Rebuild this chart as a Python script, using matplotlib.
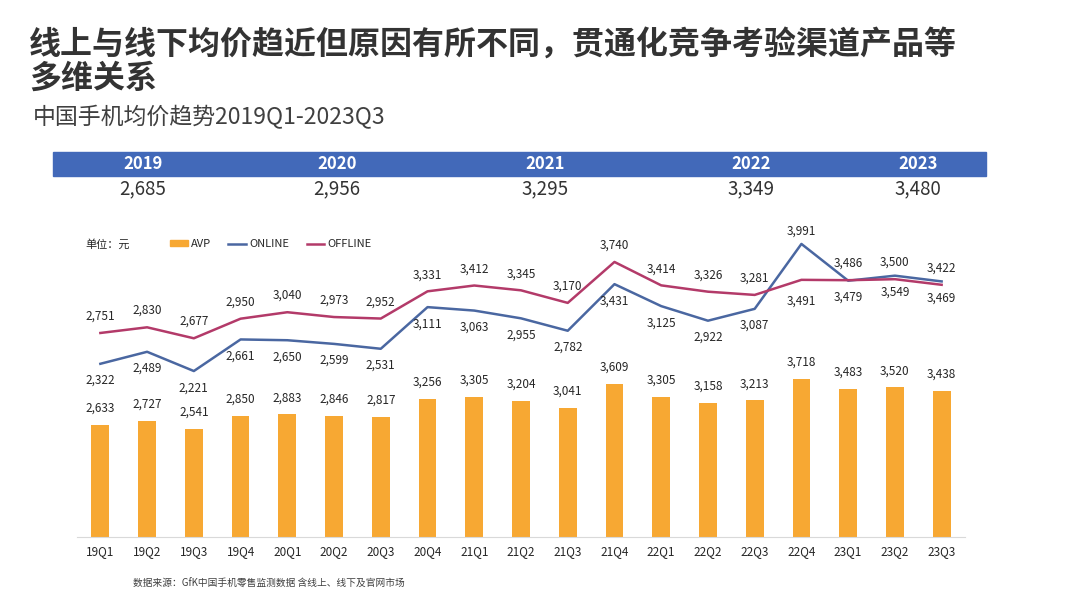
import matplotlib.pyplot as plt
from matplotlib.patches import Rectangle
from matplotlib.lines import Line2D
from matplotlib.patches import Patch

plt.rcParams['font.family'] = ['Noto Sans CJK SC', 'DejaVu Sans']

QUARTERS = ["19Q1", "19Q2", "19Q3", "19Q4", "20Q1", "20Q2", "20Q3", "20Q4",
            "21Q1", "21Q2", "21Q3", "21Q4", "22Q1", "22Q2", "22Q3", "22Q4",
            "23Q1", "23Q2", "23Q3"]
AVP = [2633, 2727, 2541, 2850, 2883, 2846, 2817, 3256, 3305, 3204, 3041,
       3609, 3305, 3158, 3213, 3718, 3483, 3520, 3438]
ONLINE = [2322, 2489, 2221, 2661, 2650, 2599, 2531, 3111, 3063, 2955, 2782,
          3431, 3125, 2922, 3087, 3991, 3479, 3549, 3469]
OFFLINE = [2751, 2830, 2677, 2950, 3040, 2973, 2952, 3331, 3412, 3345, 3170,
           3740, 3414, 3326, 3281, 3491, 3486, 3500, 3422]
YEARS = ["2019", "2020", "2021", "2022", "2023"]
YEAR_AVG = [2685, 2956, 3295, 3349, 3480]

C_BAR = "#F7A833"
C_ON = "#4A67A1"
C_OFF = "#B33A69"
C_TXT = "#262626"
W, H = 1080, 608


def fx(px):
    return px / W


def fy(py):
    return 1 - py / H


fig = plt.figure(figsize=(10.8, 6.08), dpi=100)
fig.patch.set_facecolor("white")

# titles
fig.text(fx(29), fy(45), "线上与线下均价趋近但原因有所不同，贯通化竞争考验渠道产品等",
         fontsize=23, fontweight="bold", color="#333333", va="center")
fig.text(fx(29), fy(79), "多维关系", fontsize=23, fontweight="bold",
         color="#333333", va="center")
fig.text(fx(33), fy(117), "中国手机均价趋势2019Q1-2023Q3", fontsize=16.5,
         color="#404040", va="center")

# yearly header band
fig.patches.append(Rectangle((fx(53), fy(176)), fx(986) - fx(53), fy(152) - fy(176),
                             transform=fig.transFigure, color="#4269B9", zorder=0))
year_x = [143, 337, 545, 751, 918]
for x, yr, v in zip(year_x, YEARS, YEAR_AVG):
    fig.text(fx(x), fy(164), yr, color="white", fontsize=12, fontweight="bold",
             ha="center", va="center")
    fig.text(fx(x), fy(189), f"{v:,}", color="#333333", fontsize=13.5,
             ha="center", va="center")

# main chart
ax = fig.add_axes([fx(77), fy(537), fx(965) - fx(77), fy(230) - fy(537)])
xs = list(range(len(QUARTERS)))
ax.bar(xs, AVP, width=0.38, color=C_BAR, zorder=2)
ax.set_ylim(0, 7224)
ax.set_xlim(-0.5, len(QUARTERS) - 0.5)
for s in ["top", "right", "left"]:
    ax.spines[s].set_visible(False)
ax.spines["bottom"].set_color("#d9d9d9")
ax.set_yticks([])
ax.set_xticks(xs)
ax.set_xticklabels(QUARTERS, fontsize=8.5, color=C_TXT)
ax.tick_params(axis="x", length=0, pad=6)
for x, v in zip(xs, AVP):
    ax.annotate(f"{v:,}", (x, v), xytext=(0, 12), textcoords="offset points",
                ha="center", va="center", fontsize=8.5, color=C_TXT)

ax2 = ax.twinx()
ax2.set_ylim(-90, 4185)
ax2.axis("off")
ax2.plot(xs, ONLINE, color=C_ON, lw=1.8, zorder=3)
ax2.plot(xs, OFFLINE, color=C_OFF, lw=1.8, zorder=3)

for i, (on, off) in enumerate(zip(ONLINE, OFFLINE)):
    on_dy, off_dy = -12, 12
    if QUARTERS[i] == "22Q4":
        on_dy, off_dy = 9, -15
    ax2.annotate(f"{on:,}", (i, on), xytext=(0, on_dy), textcoords="offset points",
                 ha="center", va="center", fontsize=8.5, color=C_TXT)
    ax2.annotate(f"{off:,}", (i, off), xytext=(0, off_dy), textcoords="offset points",
                 ha="center", va="center", fontsize=8.5, color=C_TXT)

# legend
fig.text(fx(85), fy(244), "单位：元", fontsize=8, color=C_TXT, va="center")
handles = [Patch(color=C_BAR, label="AVP"),
           Line2D([], [], color=C_ON, lw=1.8, label="ONLINE"),
           Line2D([], [], color=C_OFF, lw=1.8, label="OFFLINE")]
fig.legend(handles=handles, loc="center left", bbox_to_anchor=(fx(160), fy(244)),
           ncol=3, frameon=False, fontsize=8, handlelength=1.6, handleheight=0.45,
           handletextpad=0.25, columnspacing=1.6, labelcolor=C_TXT)

fig.text(fx(133), fy(584), "数据来源：GfK中国手机零售监测数据 含线上、线下及官网市场",
         fontsize=7, color="#404040", va="center")

fig.savefig("out.png", dpi=100)
